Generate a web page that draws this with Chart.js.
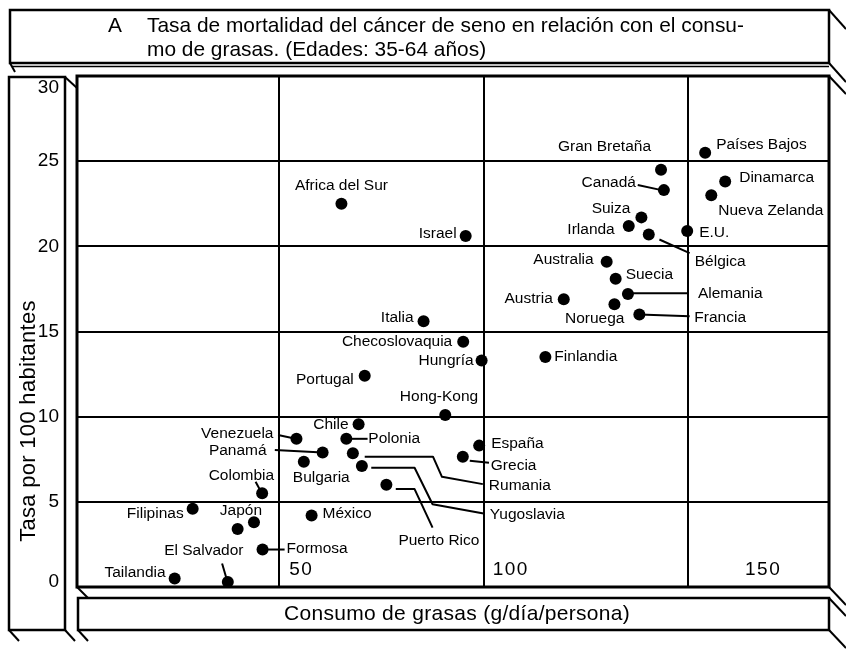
<!DOCTYPE html>
<html>
<head>
<meta charset="utf-8">
<script src="https://cdn.jsdelivr.net/npm/chart.js@4.4.0/dist/chart.umd.min.js"></script>
<style>
  html, body { margin: 0; padding: 0; background: #fff; overflow: hidden; }
  canvas { display: block; }
</style>
</head>
<body>
<canvas id="chart" width="846" height="651"></canvas>
<script>
// data
const countries = ['Países Bajos', 'Gran Bretaña', 'Canadá', 'Dinamarca', 'Nueva Zelanda', 'Suiza', 'Irlanda',
  'Bélgica', 'E.U.', 'Australia', 'Suecia', 'Alemania', 'Noruega', 'Francia', 'Austria', 'Africa del Sur',
  'Israel', 'Italia', 'Checoslovaquia', 'Hungría', 'Finlandia', 'Portugal', 'Hong-Kong', 'Chile', 'Venezuela',
  'Polonia', 'Panamá', 'Bulgaria', 'Rumania', 'Yugoslavia', 'Puerto Rico', 'España', 'Grecia', 'México',
  'Colombia', 'Filipinas', 'Japón', '', 'Formosa', 'El Salvador', 'Tailandia'];
const fatIntake = [154.2, 143.4, 144.1, 159.1, 155.7, 138.6, 135.5, 140.4, 149.8, 130.1, 132.3, 135.3, 132.0,
  138.1, 119.6, 65.2, 95.6, 85.3, 95.0, 99.5, 115.1, 70.9, 90.6, 69.4, 54.2, 66.4, 60.6, 56.0, 68.0, 70.2,
  76.2, 98.9, 94.9, 57.9, 45.8, 28.8, 43.8, 39.8, 45.9, 37.4, 24.4];
const mortality = [25.5, 24.5, 23.3, 23.8, 23.0, 21.7, 21.2, 20.7, 20.9, 19.1, 18.1, 17.2, 16.6, 16.0, 16.9,
  22.5, 20.6, 15.6, 14.4, 13.3, 13.5, 12.4, 10.1, 9.55, 8.7, 8.7, 7.9, 7.35, 7.85, 7.1, 6.0, 8.3, 7.65, 4.2,
  5.5, 4.6, 3.8, 3.4, 2.2, 0.3, 0.5];
const yTicks = [0, 5, 10, 15, 20, 25, 30];
const xTicks = [50, 100, 150];

// leader lines from label to dot, in data units
const leaders = [
  [[137.7, 23.6], [143.5, 23.3]],
  [[143.0, 20.4], [150.4, 19.6]],
  [[135.3, 17.25], [150.0, 17.25]],
  [[138.1, 16.0], [150.4, 15.9]],
  [[49.7, 8.92], [54.0, 8.7]],
  [[48.9, 8.05], [60.6, 7.9]],
  [[44.2, 6.18], [45.5, 5.6]],
  [[45.9, 2.2], [51.3, 2.2]],
  [[36.0, 1.38], [37.2, 0.4]],
  [[66.4, 8.7], [71.6, 8.7]],
  [[70.9, 7.65], [87.6, 7.65], [89.8, 6.47], [99.8, 6.04]],
  [[72.5, 7.0], [83.1, 7.0], [87.5, 4.86], [100.0, 4.32]],
  [[78.5, 5.75], [83.1, 5.75], [87.5, 3.49]],
  [[96.6, 7.41], [101.3, 7.29]]
];

// label placement: pixel offset from the dot and alignment
const labelPos = [
  [11, -8, 'left'], [-10, -23, 'right'], [-28, -7, 'right'], [14, -4, 'left'], [7, 15, 'left'],
  [-11, -9, 'right'], [-14, 4, 'right'], [46, 27, 'left'], [12, 2, 'left'], [-13, -2, 'right'],
  [10, -4, 'left'], [70, 0, 'left'], [10, 14, 'right'], [55, 3, 'left'], [-11, 0, 'right'],
  [0, -18, 'center'], [-9, -2, 'right'], [-10, -4, 'right'], [-11, 0, 'right'], [-8, 0, 'right'],
  [9, 0, 'left'], [-11, 4, 'right'], [33, -18, 'right'], [-10, 0, 'right'], [-23, -5, 'right'],
  [22, 0, 'left'], [-56, -2, 'right'], [-11, 16, 'left'], [136, 32, 'left'], [128, 49, 'left'],
  [93, 56, 'right'], [12, -2, 'left'], [28, 9, 'left'], [11, -2, 'left'], [12, -18, 'right'],
  [-9, 5, 'right'], [-13, -12, 'center'], null, [24, -1, 'left'], [-24, -31, 'center'], [-9, -6, 'right']
];

const points = fatIntake.map((x, i) => ({ x: x, y: mortality[i] }));
const FONT = '"Liberation Sans", Arial, sans-serif';

function line(ctx, pts, w) {
  ctx.lineWidth = w;
  ctx.beginPath();
  ctx.moveTo(pts[0][0], pts[0][1]);
  for (let i = 1; i < pts.length; i++) ctx.lineTo(pts[i][0], pts[i][1]);
  ctx.stroke();
}

const figurePlugin = {
  id: 'figure',
  beforeDraw(chart) {
    const ctx = chart.ctx;
    ctx.save();
    ctx.fillStyle = '#fff';
    ctx.fillRect(0, 0, chart.width, chart.height);
    ctx.restore();
  },
  beforeDatasetsDraw(chart) {
    const ctx = chart.ctx, xs = chart.scales.x, ys = chart.scales.y;
    ctx.save();
    ctx.strokeStyle = '#000';
    ctx.lineJoin = 'round';
    leaders.forEach(l => {
      line(ctx, l.map(p => [xs.getPixelForValue(p[0]), ys.getPixelForValue(p[1])]), 2);
    });
    ctx.restore();
  },
  afterDatasetsDraw(chart) {
    const ctx = chart.ctx, meta = chart.getDatasetMeta(0);
    ctx.save();
    ctx.fillStyle = '#000';
    ctx.font = '15.5px ' + FONT;
    ctx.textBaseline = 'middle';
    meta.data.forEach((pt, i) => {
      const p = labelPos[i];
      if (!p || !countries[i]) return;
      ctx.textAlign = p[2];
      ctx.fillText(countries[i], pt.x + p[0], pt.y + p[1]);
    });
    ctx.restore();
  },
  afterDraw(chart) {
    const ctx = chart.ctx, a = chart.chartArea, xs = chart.scales.x, ys = chart.scales.y;
    const L = a.left, T = a.top, R = a.right, B = a.bottom;
    ctx.save();
    ctx.strokeStyle = '#000';
    ctx.fillStyle = '#000';

    // plot frame
    ctx.lineWidth = 3;
    ctx.strokeRect(L, T, R - L, B - T);

    // title box
    ctx.lineWidth = 2.5;
    ctx.strokeRect(10, 10, R - 10, 53);
    line(ctx, [[R, 10], [846, 29]], 2);
    line(ctx, [[R, 63], [846, 82]], 2);
    line(ctx, [[12, 66.5], [R, 66.5]], 1.5);
    line(ctx, [[10, 63], [15, 72]], 2);
    line(ctx, [[R, T], [846, T + 18]], 2);

    // y title box
    ctx.lineWidth = 2.5;
    ctx.strokeRect(9, T + 1, 56, 630 - T - 1);
    line(ctx, [[65, T + 1], [L, T + 12]], 2);
    line(ctx, [[9, 630], [19, 641]], 2);
    line(ctx, [[65, 630], [75, 641]], 2);

    // x title box
    ctx.lineWidth = 2.5;
    ctx.strokeRect(L + 1, 598, R - L - 1, 32);
    line(ctx, [[L, B], [L + 11, 598]], 2);
    line(ctx, [[L + 1, 630], [L + 11, 641]], 2);
    line(ctx, [[R, B], [846, B + 18]], 2);
    line(ctx, [[R, 598], [846, 616]], 2);
    line(ctx, [[R, 630], [846, 648]], 2);

    // y tick labels
    ctx.font = '19px ' + FONT;
    ctx.textAlign = 'right';
    ctx.textBaseline = 'middle';
    yTicks.forEach(v => {
      let y = ys.getPixelForValue(v);
      y = Math.min(Math.max(y, T + 12), B - 5);
      ctx.fillText(String(v), 59, y);
    });

    // x tick labels, inside the plot
    ctx.textAlign = 'left';
    ctx.letterSpacing = '1.5px';
    const xOff = [10, 9, 57];
    xTicks.forEach((v, i) => {
      ctx.fillText(String(v), xs.getPixelForValue(v) + xOff[i], 570);
    });
    ctx.letterSpacing = '0px';

    // axis titles
    ctx.font = '21px ' + FONT;
    ctx.textAlign = 'center';
    ctx.letterSpacing = '0.3px';
    ctx.fillText('Consumo de grasas (g/día/persona)', 457, 614);
    ctx.save();
    ctx.translate(29, 421);
    ctx.rotate(-Math.PI / 2);
    ctx.font = '22px ' + FONT;
    ctx.fillText('Tasa por 100 habitantes', 0, 0);
    ctx.restore();
    ctx.letterSpacing = '0px';

    // title
    ctx.font = '20.9px ' + FONT;
    ctx.textAlign = 'left';
    ctx.textBaseline = 'alphabetic';
    ctx.fillText('A', 108, 32);
    ctx.fillText('Tasa de mortalidad del cáncer de seno en relación con el consu-', 147, 32);
    ctx.fillText('mo de grasas. (Edades: 35-64 años)', 147, 56);
    ctx.restore();
  }
};

const ctx = document.getElementById('chart').getContext('2d');
new Chart(ctx, {
  type: 'scatter',
  data: {
    datasets: [{
      data: points,
      pointRadius: 6,
      pointHoverRadius: 6,
      pointBackgroundColor: '#000',
      pointBorderWidth: 0,
      clip: false
    }]
  },
  options: {
    responsive: false,
    animation: false,
    devicePixelRatio: 1,
    layout: { padding: { left: 77, top: 76, right: 17, bottom: 64 } },
    plugins: { legend: { display: false }, tooltip: { enabled: false } },
    scales: {
      x: {
        type: 'linear',
        min: 0.5,
        max: 184.5,
        afterFit: s => { s.height = 0; },
        afterBuildTicks: s => { s.ticks = xTicks.map(v => ({ value: v })); },
        ticks: { display: false },
        border: { display: false },
        grid: { color: '#000', lineWidth: 2, drawTicks: false }
      },
      y: {
        type: 'linear',
        min: 0,
        max: 30,
        afterFit: s => { s.width = 0; },
        afterBuildTicks: s => { s.ticks = yTicks.slice(1, -1).map(v => ({ value: v })); },
        ticks: { display: false },
        border: { display: false },
        grid: { color: '#000', lineWidth: 2, drawTicks: false }
      }
    }
  },
  plugins: [figurePlugin]
});
</script>
</body>
</html>
